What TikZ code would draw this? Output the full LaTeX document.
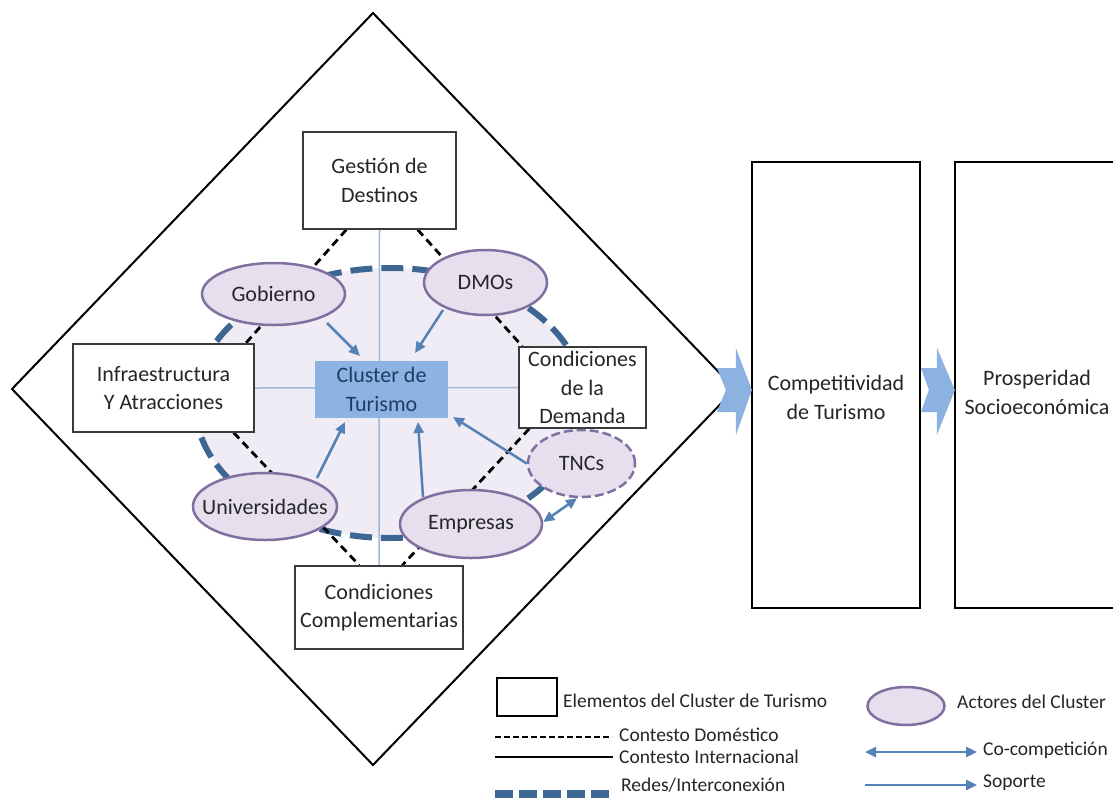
\documentclass[tikz,border=0pt]{standalone}
\usepackage{fontspec}
\setmainfont{Carlito}
\usetikzlibrary{shapes.geometric,arrows.meta,calc}

\definecolor{ink}{HTML}{262626}
\definecolor{boxline}{HTML}{3A3A3A}
\definecolor{zonefill}{HTML}{EFECF5}
\definecolor{actorfill}{HTML}{E5DFEE}
\definecolor{actorline}{HTML}{80709F}
\definecolor{netblue}{HTML}{3D6693}
\definecolor{crossblue}{HTML}{9DB9DC}
\definecolor{arrowblue}{HTML}{5582B6}
\definecolor{clusterfill}{HTML}{8DB3E2}
\definecolor{clustertext}{HTML}{1F3D63}
\definecolor{blockblue}{HTML}{8CB2E1}

\newcommand{\diagfont}{\fontsize{22}{28.5}\selectfont}
\newcommand{\legfont}{\fontsize{19.5}{24}\selectfont}

\pgfdeclarelayer{back}
\pgfdeclarelayer{mid}
\pgfsetlayers{back,mid,main}

\begin{document}
\begin{tikzpicture}[x=1pt,y=-1pt,
  elem/.style={draw=boxline, line width=1.4pt, fill=white, align=center,
    inner sep=0pt, text=ink, font=\diagfont},
  clusterbox/.style={fill=clusterfill, align=center, inner sep=0pt,
    text=clustertext, font=\diagfont},
  actor/.style={ellipse, draw=actorline, line width=2.5pt, fill=actorfill,
    inner sep=0pt, text=ink, font=\diagfont},
  bigbox/.style={draw=black, line width=2.2pt, fill=white, inner sep=0pt},
  label/.style={align=center, inner sep=0pt, text=ink, font=\diagfont},
  legendtext/.style={inner sep=0pt, text=ink, font=\legfont, anchor=west},
  support/.style={draw=arrowblue, line width=2.5pt,
    -{Triangle[length=11pt,width=10pt]}},
  cocomp/.style={draw=arrowblue, line width=2.5pt,
    {Triangle[length=11pt,width=10pt]}-{Triangle[length=11pt,width=10pt]}},
  domestic/.style={draw=black, line width=2.8pt, dash pattern=on 8pt off 5pt},
  network/.style={draw=netblue, line width=6pt, dash pattern=on 22pt off 9pt},
  crossline/.style={draw=crossblue, line width=1.5pt},
  bigarrow/.style={fill=blockblue}
]
\useasboundingbox (0,0) rectangle (1113,798);

% ---------- cluster elements ----------
\node[elem, minimum width=153pt, minimum height=97pt] (gest) at (379.5,180.5) {Gestión de\\Destinos};
\node[elem, minimum width=181pt, minimum height=88pt] (infra) at (163.5,388) {Infraestructura\\Y Atracciones};
\node[elem, minimum width=127pt, minimum height=81pt] (dem) at (582.5,387.5) {Condiciones\\de la\\Demanda};
\node[elem, minimum width=168pt, minimum height=83pt] (compl) at (379,607.5) {Condiciones\\Complementarias};
\node[clusterbox, minimum width=133pt, minimum height=57pt] (cluster) at (381.5,389.5) {Cluster de\\Turismo};

% ---------- cluster actors ----------
\node[actor, minimum width=143pt, minimum height=62pt] (gob) at (273.5,294) {\makebox[0pt]{Gobierno}};
\node[actor, minimum width=123pt, minimum height=65pt] (dmo) at (485.5,282.5) {\makebox[0pt]{DMOs}};
\node[actor, minimum width=144pt, minimum height=67pt] (univ) at (265,506.5) {\makebox[0pt]{Universidades}};
\node[actor, minimum width=142pt, minimum height=68pt] (emp) at (471,524) {\makebox[0pt]{Empresas}};
\node[actor, dash pattern=on 9pt off 4pt, minimum width=107pt, minimum height=67pt] (tnc) at (581.5,463.5) {\makebox[0pt]{TNCs}};

% ---------- frame, zone and links behind the nodes ----------
\begin{pgfonlayer}{back}
  \fill[white] (0,0) rectangle (1113,798);
  \draw[line width=2pt, fill=white] (373,13) -- (735,389) -- (373,765) -- (12,389) -- cycle;
  \fill[zonefill] (390,403) ellipse [x radius=195pt, y radius=135pt];
\end{pgfonlayer}
\begin{pgfonlayer}{mid}
  \draw[crossline] (gest.south) -- (compl.north);
  \draw[crossline] (infra.east) -- (dem.west);
  \draw[network] (390,403) ellipse [x radius=195pt, y radius=135pt];
  \draw[domestic] ($(gest.south west)+(44,0)$) -- ($(infra.north east)+(-9,0)$);
  \draw[domestic] ($(gest.south east)+(-39,0)$) -- ($(dem.north west)+(4,0)$);
  \draw[domestic] ($(infra.south east)+(-21,0)$) -- ($(compl.north west)+(65,0)$);
  \draw[domestic] ($(dem.south west)+(11,0)$) -- ($(compl.north west)+(108,0)$);
\end{pgfonlayer}

% ---------- support and co-competition arrows ----------
\draw[support] ($(gob.center)+(53.5,29)$) -- ($(cluster.center)+(-21.5,-33.5)$);
\draw[support] ($(dmo.center)+(-42.5,27.5)$) -- ($(cluster.center)+(33.5,-36.5)$);
\draw[support] ($(univ.center)+(52,-28.5)$) -- ($(cluster.center)+(-36.5,32.5)$);
\draw[support] ($(emp.center)+(-48,-27)$) -- ($(cluster.center)+(36.5,32.5)$);
\draw[support] (tnc.west) -- ($(cluster.center)+(71.5,27.5)$);
\draw[cocomp] ($(emp.east)+(0,-2)$) -- ($(tnc.south)+(-4.5,0)$);

% ---------- outcomes ----------
\node[bigbox, minimum width=168pt, minimum height=446pt] (compet) at (836,385) {};
\node[label] (competlbl) at (836,397.5) {Competitividad\\de Turismo};
\node[bigbox, minimum width=161pt, minimum height=446pt] (prosp) at (1035.5,385) {};
\node[label] (prosplbl) at (1037,392.5) {Prosperidad\\Socioeconómica};

\coordinate (tip1) at ($(compet.west)+(1,5)$);
\fill[bigarrow] (tip1) -- ++(-16,-42) -- ++(0,20) -- ++(-19,0) -- ++(9,22)
  -- ++(-9,22) -- ++(19,0) -- ++(0,23) -- cycle;
\coordinate (tip2) at ($(prosp.west)+(1,5)$);
\fill[bigarrow] (tip2) -- ++(-18,-42) -- ++(0,20) -- ++(-16,0) -- ++(8,22)
  -- ++(-8,22) -- ++(16,0) -- ++(0,23) -- cycle;

% ---------- legend ----------
\node[draw=black, line width=1.4pt, minimum width=60pt, minimum height=38pt, inner sep=0pt] (lgbox) at (527,697) {};
\node[legendtext] (lgboxtxt) at (563,701) {Elementos del Cluster de Turismo};
\draw[black, line width=1.6pt, dash pattern=on 6pt off 3pt] (495,737) -- (612,737);
\node[legendtext] (lgdom) at (619,735) {Contesto Doméstico};
\draw[black, line width=2pt] (495,757) -- (613,757);
\node[legendtext] (lgint) at (619,757) {Contesto Internacional};
\draw[draw=netblue, line width=8pt, dash pattern=on 18pt off 6pt] (495,794) -- (610,794);
\node[legendtext] (lgnet) at (621,785) {Redes/Interconexión};

\node[actor, minimum width=77pt, minimum height=38pt] (lgactor) at (906,706) {};
\node[legendtext] (lgactortxt) at (957,702) {Actores del Cluster};
\draw[cocomp] (865,752) -- (977,752);
\node[legendtext] (lgcoc) at (983,750) {Co-competición};
\draw[support] (865,785) -- (977,785);
\node[legendtext] (lgsup) at (983,783) {Soporte};
\end{tikzpicture}
\end{document}
